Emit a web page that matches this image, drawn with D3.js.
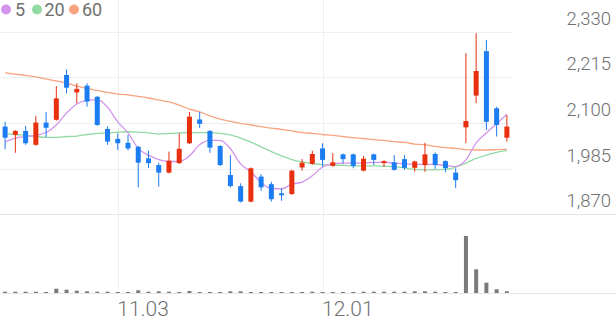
<!DOCTYPE html>
<html>
<head>
<meta charset="utf-8">
<script src="https://cdn.jsdelivr.net/npm/d3@7"></script>
<style>
  html, body { margin: 0; padding: 0; background: #fff; }
  svg { display: block; }
  text { font-family: Roboto, "Noto Sans", sans-serif; }
</style>
</head>
<body>
<svg id="chart" width="616" height="321"></svg>
<script>
// ---- data ----
const dates = ["10.17","10.20","10.21","10.22","10.23","10.24","10.27","10.28","10.29","10.30","10.31",
  "11.03","11.04","11.05","11.06","11.07","11.10","11.11","11.12","11.13","11.14",
  "11.17","11.18","11.19","11.20","11.21","11.24","11.25","11.26","11.27","11.28",
  "12.01","12.02","12.03","12.04","12.05","12.08","12.09","12.10","12.11","12.12",
  "12.15","12.16","12.17","12.18","12.19","12.22","12.23","12.24","12.26"];
const open  = [2091,2070,2080,2045,2101,2108,2221,2177,2194,2166,2085,2060,2050,2040,2011,1994,1975,1999,2049,2109,2080,2042,1969,1941,1902,1965,1946,1923,1921,1988,1997,2036,1992,2021,2021,1980,2021,1999,2001,2009,1987,1994,2022,2004,1975,2089,2169,2281,2137,2063];
const high  = [2103,2082,2093,2118,2128,2193,2235,2200,2200,2168,2091,2074,2070,2042,2030,2000,2028,2074,2128,2128,2082,2044,2019,1948,1988,1971,1952,1936,1982,2009,2030,2049,2024,2023,2023,2017,2023,2006,2019,2019,2005,2050,2026,2006,1986,2276,2326,2309,2141,2120];
const low   = [2034,2025,2045,2043,2064,2106,2175,2150,2141,2093,2045,2032,2031,1938,1987,1940,1973,1997,2047,2087,2025,1992,1938,1900,1900,1929,1902,1904,1919,1980,1995,1990,1990,1998,1986,1978,1994,1990,1980,1982,1977,1977,1984,1976,1936,2049,2150,2082,2066,2053];
const close = [2063,2080,2049,2101,2088,2162,2189,2186,2154,2095,2053,2049,2036,2000,1999,1975,2005,2035,2116,2098,2038,1994,1941,1902,1986,1938,1908,1918,1980,2000,2022,2007,2001,2009,1992,2010,2007,2004,1982,1987,2003,2021,1994,1986,1956,2105,2231,2103,2095,2091];
const volume = [130,130,130,130,100,430,330,230,170,130,130,100,100,270,130,170,130,100,200,100,100,100,170,170,100,100,100,100,100,100,130,100,100,100,100,130,130,130,130,130,170,170,130,100,100,5700,2370,1030,370,170];
const ma5  = [2052,2062,2066,2069,2076,2095,2125,2148,2157,2159,2140,2103,2075,2036,2019,2008,2003,2003,2017,2045,2056,2056,2035,1997,1977,1950,1935,1934,1946,1951,1967,1989,1997,1999,1999,1999,2001,2001,1999,1997,1996,1996,1996,1993,1990,2007,2050,2075,2098,2122];
const ma20 = [2074,2071,2069,2066,2064,2064,2066,2067,2071,2074,2075,2077,2078,2077,2075,2072,2074,2075,2076,2076,2076,2074,2070,2062,2052,2040,2028,2017,2008,2002,1998,1995,1994,1993,1992,1992,1992,1991,1990,1987,1983,1982,1982,1983,1989,1999,2011,2019,2026,2031];
const ma60 = [2227,2223,2220,2216,2211,2206,2201,2193,2187,2182,2177,2173,2171,2167,2163,2158,2153,2145,2135,2128,2118,2110,2104,2099,2095,2091,2087,2084,2080,2076,2074,2071,2069,2066,2063,2061,2058,2056,2053,2051,2047,2045,2041,2038,2036,2033,2032,2032,2033,2034];
const yTicks = [2330, 2215, 2100, 1985, 1870];
const xTickLabels = ["11.03", "12.01"];
const maNames = ["5", "20", "60"];

// ---- styles ----
const UP = "#e8300e", DOWN = "#1c7cf2";
const maColors = ["#d394ec", "#92d9a3", "#f8a481"];
const gridColor = "#efefef";
const textColor = "#707070";

const svg = d3.select("#chart");
const x = d3.scaleBand().domain(dates).range([0, 512]);
const cx = d => x(d) + x.bandwidth() / 2;
const y = d3.scaleLinear().domain([1870, 2330]).range([214.3, 31.7]);
const yv = d3.scaleLinear().domain([0, d3.max(volume)]).range([293, 236]);

const crisp = v => Math.round(v) + 0.5;

// horizontal grid
svg.append("g").selectAll("line").data(yTicks.slice(0, -1)).join("line")
  .attr("x1", 0).attr("x2", 512)
  .attr("y1", d => crisp(y(d))).attr("y2", d => crisp(y(d)))
  .attr("stroke", gridColor).attr("stroke-width", 1.2);
// panel separators
svg.append("line").attr("x1", 0).attr("x2", 616)
  .attr("y1", crisp(y(1870))).attr("y2", crisp(y(1870)))
  .attr("stroke", "#e6e6e6").attr("stroke-width", 1.2);
svg.append("line").attr("x1", 0).attr("x2", 616)
  .attr("y1", crisp(yv(0))).attr("y2", crisp(yv(0)))
  .attr("stroke", "#e6e6e6").attr("stroke-width", 1.2);

// vertical grid
svg.append("g").selectAll("line").data(xTickLabels).join("line")
  .attr("x1", d => crisp(cx(d))).attr("x2", d => crisp(cx(d)))
  .attr("y1", 0).attr("y2", yv(0))
  .attr("stroke", gridColor).attr("stroke-width", 1);

// y labels
svg.append("g").selectAll("text").data(yTicks).join("text")
  .attr("x", 611).attr("y", d => y(d) - 7)
  .attr("text-anchor", "end")
  .attr("font-size", 18.5).attr("font-weight", 300)
  .attr("fill", textColor)
  .text(d => d3.format(",")(d));

// x labels
svg.append("g").selectAll("text").data(xTickLabels).join("text")
  .attr("x", d => cx(d) - 0.5).attr("y", 315.5)
  .attr("text-anchor", "start")
  .attr("font-size", 21).attr("font-weight", 300)
  .attr("fill", textColor)
  .text(d => d);

// volume bars
svg.append("g").selectAll("rect").data(dates).join("rect")
  .attr("x", d => cx(d) - 2).attr("width", 4)
  .attr("y", (d, i) => yv(volume[i]))
  .attr("height", (d, i) => yv(0) - yv(volume[i]))
  .attr("fill", "#7a7a7a");

// MA lines
[ma60, ma20, ma5].forEach((arr, k) => {
  const color = maColors[2 - k];
  svg.append("path")
    .datum(dates.map((d, i) => [cx(d), y(arr[i])]))
    .attr("d", d3.line().curve(d3.curveMonotoneX))
    .attr("fill", "none").attr("stroke", color).attr("stroke-width", 1.3);
});

// candles
const cg = svg.append("g");
dates.forEach((d, i) => {
  const col = close[i] >= open[i] ? UP : DOWN;
  cg.append("line")
    .attr("x1", cx(d)).attr("x2", cx(d))
    .attr("y1", y(high[i])).attr("y2", y(low[i]))
    .attr("stroke", col).attr("stroke-width", 1);
  const top = y(Math.max(open[i], close[i]));
  const bot = y(Math.min(open[i], close[i]));
  cg.append("rect")
    .attr("x", cx(d) - 2.5).attr("width", 5)
    .attr("y", top).attr("height", Math.max(1, bot - top))
    .attr("fill", col);
});

// legend
const lg = svg.append("g");
const legendX = [6, 37, 74];
const legendTextX = [15, 44.5, 82];
maNames.forEach((n, k) => {
  lg.append("circle").attr("cx", legendX[k]).attr("cy", 9.5).attr("r", 5).attr("fill", maColors[k]);
  lg.append("text").attr("x", legendTextX[k]).attr("y", 16)
    .attr("font-size", 18).attr("font-weight", 400).attr("fill", textColor).text(n);
});
</script>
</body>
</html>
